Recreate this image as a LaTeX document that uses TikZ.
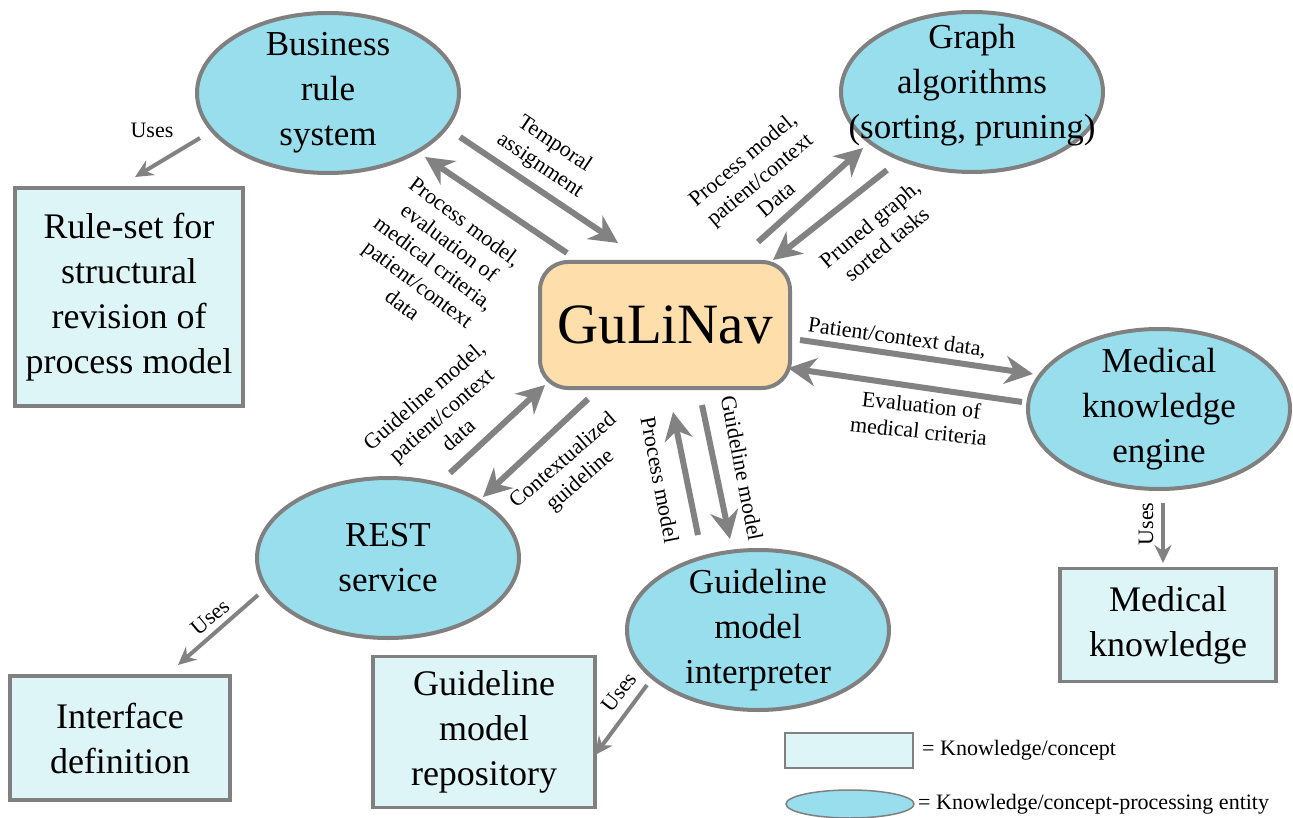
\documentclass[tikz,border=0pt]{standalone}
\usepackage{fontspec}
\setmainfont{Liberation Serif}
\usetikzlibrary{shapes.geometric,arrows.meta}
\definecolor{ellfill}{RGB}{152,222,236}
\definecolor{boxfill}{RGB}{222,245,248}
\definecolor{gulfill}{RGB}{254,222,170}
\definecolor{edgegray}{RGB}{128,128,128}
\definecolor{arrcol}{RGB}{130,130,130}
\begin{document}
\begin{tikzpicture}[x=1pt,y=-1pt,
  proc/.style={ellipse, draw=edgegray, line width=4pt, fill=ellfill, minimum width=262pt, minimum height=160pt, inner sep=-40pt, align=center, font=\fontsize{35}{45}\selectfont},
  proctext/.style={align=center, inner sep=0pt, font=\fontsize{35}{45}\selectfont},
  know/.style={rectangle, draw=edgegray, line width=3.5pt, fill=boxfill, align=center, inner sep=0pt, font=\fontsize{36}{45}\selectfont},
  arr/.style={draw=arrcol, line width=6pt, -{Stealth[length=28pt,width=28pt,inset=9pt]}},
  usearr/.style={draw=arrcol, line width=4pt, -{Stealth[length=18pt,width=17pt,inset=6pt]}},
  lbl/.style={align=center, font=\fontsize{22}{26}\selectfont, inner sep=0pt}]
\useasboundingbox (0,0) rectangle (1293,818);

% central node
\node[rectangle, rounded corners=28pt, draw=edgegray, line width=4pt, fill=gulfill, minimum width=250pt, minimum height=126pt, font=\fontsize{57}{60}\selectfont] (gul) at (665,325) {GuLiNav};

% processing entities
\node[proc] (brs) at (328,93) {Business\\rule\\system};
\node[proc] (gra) at (972,92) {};
\node[proctext] (graT) at (972,85) {Graph\\algorithms\\(sorting, pruning)};
\node[proc] (mke) at (1159,409) {Medical\\knowledge\\engine};
\node[proc] (rest) at (388,558) {REST\\service};
\node[proc] (gmi) at (758,630) {Guideline\\model\\interpreter};

% knowledge boxes
\node[know, minimum width=228pt, minimum height=218pt] (rules) at (129,297) {Rule-set for\\structural\\revision of\\process model};
\node[know, minimum width=220pt, minimum height=124pt] (iface) at (120,738) {Interface\\definition};
\node[know, minimum width=222pt, minimum height=151pt] (repo) at (484,732) {Guideline\\model\\repository};
\node[know, minimum width=216pt, minimum height=113pt] (mk) at (1168,625) {Medical\\knowledge};

% arrow end points
\coordinate (brsA) at (460,137);  \coordinate (gulA) at (618,243);
\coordinate (gulB) at (567,253);  \coordinate (brsB) at (425,157);
\coordinate (gulC) at (758,242);  \coordinate (graC) at (863,148);
\coordinate (graD) at (887,170);  \coordinate (gulD) at (773,260);
\coordinate (gulE) at (800,340);  \coordinate (mkeE) at (1033,374);
\coordinate (mkeF) at (1022,402); \coordinate (gulF) at (788,368);
\coordinate (restG) at (450,473); \coordinate (gulG) at (545,385);
\coordinate (gulH) at (588,399);  \coordinate (restH) at (483,497);
\coordinate (gmiI) at (698,535);  \coordinate (gulI) at (673,412);
\coordinate (gulJ) at (702,405);  \coordinate (gmiJ) at (730,539);
\coordinate (brsU) at (200,138);  \coordinate (rulesU) at (135,177);
\coordinate (mkeU) at (1163,503); \coordinate (mkU) at (1163,563);
\coordinate (restU) at (258,595); \coordinate (ifaceU) at (178,665);
\coordinate (gmiU) at (647,685);  \coordinate (repoU) at (595,755);

% connectors
\draw[arr] (brsA) -- (gulA);
\draw[arr] (gulB) -- (brsB);
\draw[arr] (gulC) -- (graC);
\draw[arr] (graD) -- (gulD);
\draw[arr] (gulE) -- (mkeE);
\draw[arr] (mkeF) -- (gulF);
\draw[arr] (restG) -- (gulG);
\draw[arr] (gulH) -- (restH);
\draw[arr] (gmiI) -- (gulI);
\draw[arr] (gulJ) -- (gmiJ);
\draw[usearr] (brsU) -- (rulesU);
\draw[usearr] (mkeU) -- (mkU);
\draw[usearr] (restU) -- (ifaceU);
\draw[usearr] (gmiU) -- (repoU);

% labels
\node[lbl, rotate=-34] (l1) at (547,155) {Temporal\\assignment};
\node[lbl, rotate=-37] (l2) at (434,263) {Process model,\\evaluation of\\medical criteria,\\patient/context\\data};
\node[lbl, rotate=40] (l3) at (759,179) {Process model,\\patient/context\\Data};
\node[lbl, rotate=40] (l4) at (878,234) {Pruned graph,\\sorted tasks};
\node[lbl, rotate=-8] (l5) at (897,338) {Patient/context data,};
\node[lbl, rotate=-6] (l6) at (920,418) {Evaluation of\\medical criteria};
\node[lbl, rotate=41] (l7) at (441,415) {Guideline model,\\patient/context\\data};
\node[lbl, rotate=41] (l8) at (572,471) {Contextualized\\guideline};
\node[lbl, rotate=-79] (l9) at (660,480) {Process model};
\node[lbl, rotate=-79] (l10) at (742,468) {Guideline model};
\node[lbl] (u1) at (152,130) {Uses};
\node[lbl, rotate=90] (u2) at (1146,524) {Uses};
\node[lbl, rotate=40] (u3) at (210,617) {Uses};
\node[lbl, rotate=52] (u4) at (619,692) {Uses};

% legend
\node[rectangle, draw=edgegray, line width=2pt, fill=boxfill, minimum width=128pt, minimum height=35pt, inner sep=0pt] (legbox) at (849,750) {};
\node[ellipse, draw=edgegray, line width=1.5pt, fill=ellfill, minimum width=128pt, minimum height=28pt, inner sep=0pt] (legell) at (850,804) {};
\node[lbl, anchor=west] (legt1) at (922,750) {= Knowledge/concept};
\node[lbl, anchor=west] (legt2) at (918,804) {= Knowledge/concept-processing entity};
\end{tikzpicture}
\end{document}
